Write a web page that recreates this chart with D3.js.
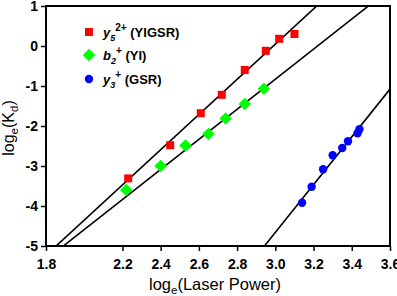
<!DOCTYPE html>
<html>
<head>
<meta charset="utf-8">
<script src="https://cdn.jsdelivr.net/npm/d3@7"></script>
<style>
  body { margin: 0; background: #fff; }
  text { font-family: "Liberation Sans", Arial, sans-serif; }
</style>
</head>
<body>
<svg id="chart" width="397" height="296"></svg>
<script>
// --- data ---
const redX   = [2.23, 2.45, 2.61, 2.72, 2.84, 2.95, 3.02, 3.10];
const redY   = [-3.31, -2.48, -1.68, -1.22, -0.60, -0.12, 0.18, 0.30];
const greenX = [2.22, 2.40, 2.53, 2.65, 2.74, 2.84, 2.94];
const greenY = [-3.60, -3.00, -2.49, -2.20, -1.81, -1.45, -1.07];
const blueX  = [3.14, 3.19, 3.25, 3.30, 3.35, 3.38, 3.43, 3.44];
const blueY  = [-3.92, -3.52, -3.08, -2.73, -2.55, -2.38, -2.18, -2.08];

// fitted lines: slope, intercept
const fitSlope     = [4.40, 3.76, 5.97];
const fitIntercept = [-13.153, -12.11, -22.57];

const xTicks = [1.8, 2.2, 2.4, 2.6, 2.8, 3.0, 3.2, 3.4, 3.6];
const yTicks = [-5, -4, -3, -2, -1, 0, 1];

const svg = d3.select("#chart");
const x = d3.scaleLinear().domain([1.8, 3.6]).range([46, 390]);
const y = d3.scaleLinear().domain([-5, 1]).range([246, 6]);

// clip
svg.append("clipPath").attr("id", "plotclip")
  .append("rect")
  .attr("x", x(1.8)).attr("y", y(1))
  .attr("width", x(3.6) - x(1.8)).attr("height", y(-5) - y(1));

// fit lines
const plot = svg.append("g").attr("clip-path", "url(#plotclip)");
fitSlope.forEach((m, i) => {
  const b = fitIntercept[i];
  plot.append("line")
    .attr("x1", x(1.8)).attr("y1", y(m * 1.8 + b))
    .attr("x2", x(3.6)).attr("y2", y(m * 3.6 + b))
    .attr("stroke", "#000")
    .attr("stroke-width", 1.6);
});

// markers
const red = redX.map((v, i) => ({x: v, y: redY[i]}));
const green = greenX.map((v, i) => ({x: v, y: greenY[i]}));
const blue = blueX.map((v, i) => ({x: v, y: blueY[i]}));

svg.selectAll("rect.red").data(red).enter().append("rect")
  .attr("class", "red")
  .attr("x", d => x(d.x) - 4).attr("y", d => y(d.y) - 4)
  .attr("width", 8).attr("height", 8)
  .attr("fill", "#ff0000");

const diamond = d3.symbol().type(d3.symbolDiamond2).size(100);
svg.selectAll("path.green").data(green).enter().append("path")
  .attr("class", "green")
  .attr("d", diamond)
  .attr("transform", d => `translate(${x(d.x)},${y(d.y)})`)
  .attr("fill", "#00ff00");

svg.selectAll("circle.blue").data(blue).enter().append("circle")
  .attr("class", "blue")
  .attr("cx", d => x(d.x)).attr("cy", d => y(d.y))
  .attr("r", 4.2)
  .attr("fill", "#0000ff");

// axes
const xAxis = svg.append("g")
  .attr("transform", `translate(0,${y(-5)})`)
  .call(d3.axisBottom(x).tickValues(xTicks).tickFormat(d3.format(".1f")).tickSize(5).tickSizeOuter(0));
const yAxis = svg.append("g")
  .attr("transform", `translate(${x(1.8)},0)`)
  .call(d3.axisLeft(y).tickValues(yTicks).tickFormat(d3.format("d")).tickSize(5).tickSizeOuter(0));

[xAxis, yAxis].forEach(a => {
  a.select(".domain").remove();
  a.selectAll(".tick line").attr("stroke", "#000").attr("stroke-width", 1.5);
  a.selectAll(".tick text")
    .attr("fill", "#000")
    .style("font-size", "14px")
    .style("font-weight", "bold")
    .style("font-family", "'Liberation Sans', Arial, sans-serif");
});
xAxis.selectAll(".tick text").attr("dy", "1.05em");
yAxis.selectAll(".tick text").text(d => d3.format("d")(d).replace("−", "-"));

// frame
svg.append("rect")
  .attr("x", x(1.8)).attr("y", y(1))
  .attr("width", x(3.6) - x(1.8)).attr("height", y(-5) - y(1))
  .attr("fill", "none").attr("stroke", "#000").attr("stroke-width", 2);

// axis titles
const xt = svg.append("text")
  .attr("x", 215).attr("y", 290)
  .attr("text-anchor", "middle")
  .style("font-size", "16.5px");
xt.append("tspan").text("log");
xt.append("tspan").attr("dy", 4).style("font-size", "11.5px").text("e");
xt.append("tspan").attr("dy", -4).text("(Laser Power)");

const yt = svg.append("text")
  .attr("transform", `translate(14,128) rotate(-90)`)
  .attr("text-anchor", "middle")
  .style("font-size", "16px");
yt.append("tspan").text("log");
yt.append("tspan").attr("dy", 4).style("font-size", "11.5px").text("e");
yt.append("tspan").attr("dy", -4).text("(K");
yt.append("tspan").attr("dy", 4).style("font-size", "11.5px").text("d");
yt.append("tspan").attr("dy", -4).text(")");

// legend
const legendY = [32, 55, 79];
const lg = svg.append("g");
lg.append("rect").attr("x", 85).attr("y", legendY[0] - 4).attr("width", 8).attr("height", 8).attr("fill", "#ff0000");
lg.append("path").attr("d", diamond).attr("transform", `translate(89,${legendY[1]})`).attr("fill", "#00ff00");
lg.append("circle").attr("cx", 89).attr("cy", legendY[2]).attr("r", 4.2).attr("fill", "#0000ff");

function legendText(yy, ion, sub, sup, rest) {
  const t = lg.append("text").attr("x", 103).attr("y", yy + 5)
    .style("font-size", "13px").style("font-weight", "bold");
  t.append("tspan").style("font-style", "italic").text(ion);
  t.append("tspan").attr("dy", 4).style("font-size", "9px").style("font-style", "italic").text(sub);
  t.append("tspan").attr("dy", -10).style("font-size", "10px").text(sup);
  t.append("tspan").attr("dy", 6).text(" " + rest);
}
legendText(legendY[0], "y", "5", "2+", "(YIGSR)");
legendText(legendY[1], "b", "2", "+", "(YI)");
legendText(legendY[2], "y", "3", "+", "(GSR)");
</script>
</body>
</html>
